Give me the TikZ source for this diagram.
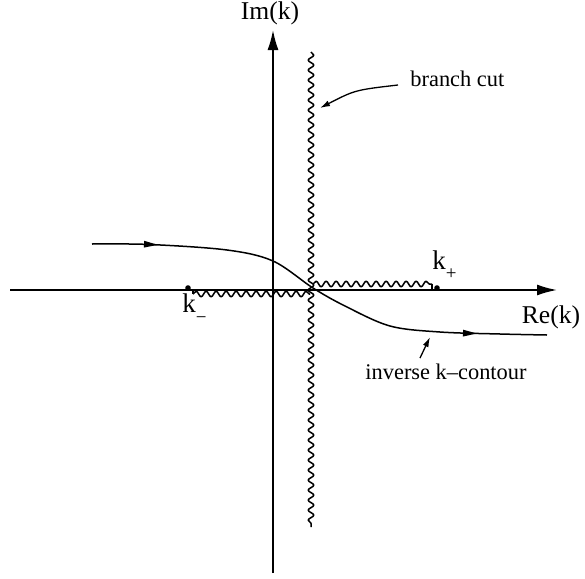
\documentclass[tikz,border=0pt]{standalone}
\usepackage{fontspec}
\setmainfont{Liberation Serif}
\usetikzlibrary{arrows.meta,decorations.pathmorphing,decorations.markings}

\begin{document}
\begin{tikzpicture}[
    x=0.5pt, y=-0.5pt, line join=round,
    axis/.style={line width=0.9pt, -{Latex[length=10pt,width=5.5pt]}},
    cut/.style={line width=0.75pt, decorate, decoration={snake, amplitude=1.4pt, segment length=5pt}},
    tick/.style={line width=0.75pt},
    contour/.style={line width=0.75pt, postaction={decorate}, decoration={markings,
        mark=at position 33pt with {\arrow{Triangle[length=7pt,width=3.2pt]}},
        mark=at position -35pt with {\arrow{Triangle[length=7pt,width=3.2pt]}}}},
    pointer/.style={line width=0.65pt, -{Latex[length=5pt,width=3pt]}},
    dot/.style={circle, fill, inner sep=0pt, minimum size=2.8pt},
    axlabel/.style={font=\fontsize{12.8}{14}\selectfont, inner sep=0pt, anchor=base},
    klabel/.style={font=\fontsize{13.5}{15}\selectfont, inner sep=0pt, anchor=base west},
    note/.style={font=\fontsize{11.2}{13}\selectfont, inner sep=0pt},
  ]
\useasboundingbox (0,0) rectangle (585,579);

% axes
\coordinate (reL) at (10,290);
\coordinate (reR) at (557,290);
\coordinate (imB) at (273,573);
\coordinate (imT) at (273,30);
\draw[axis] (reL) -- (reR);
\draw[axis] (imB) -- (imT);
\node[axlabel] (relabel) at (551,323) {Re(k)};
\node[axlabel] (imlabel) at (270,19) {Im(k)};

% branch points
\node[dot] (kplus) at (437,288) {};
\node[dot] (kminus) at (188,288) {};
\node[klabel] (kplustext) at (432,269) {k\raisebox{-5.3pt}{\fontsize{9.5}{10}\selectfont +}};
\node[klabel] (kminustext) at (182,312) {k\raisebox{-5.8pt}{\fontsize{9.5}{10}\selectfont \char"2212}};

% branch cuts
\coordinate (cutT) at (311,52);
\coordinate (cutB) at (311,527);
\coordinate (cutO) at (313,284);
\coordinate (cutE) at (432,284);
\coordinate (cutS) at (193,294);
\coordinate (cutW) at (310,294);
\draw[cut] (cutT) -- (cutB);
\draw[cut] (cutO) -- (cutE);
\draw[tick] (cutE) -- (cutE |- reL);
\draw[tick] (cutS |- reL) -- (cutS);
\draw[cut] (cutS) -- (cutW);

% inverse k-contour
\draw[contour] plot[smooth, tension=0.55] coordinates {(92,244) (150,244.5) (227,250) (273,261) (313,288) (345,306) (390,326) (440,332) (500,334) (547,335)};

% annotations
\node[note, anchor=base west] (bcut) at (410,86) {branch cut};
\coordinate (bcTip) at (320,108);
\draw[pointer] ([xshift=-6pt,yshift=0.5pt]bcut.base west) .. controls (355,90) .. (bcTip);
\node[note, anchor=base] (ictext) at (446,379) {inverse k\char"2013contour};
\coordinate (icTip) at (430,337);
\draw[pointer] ([xshift=-13pt,yshift=2.5pt]ictext.north) -- (icTip);

\end{tikzpicture}
\end{document}
